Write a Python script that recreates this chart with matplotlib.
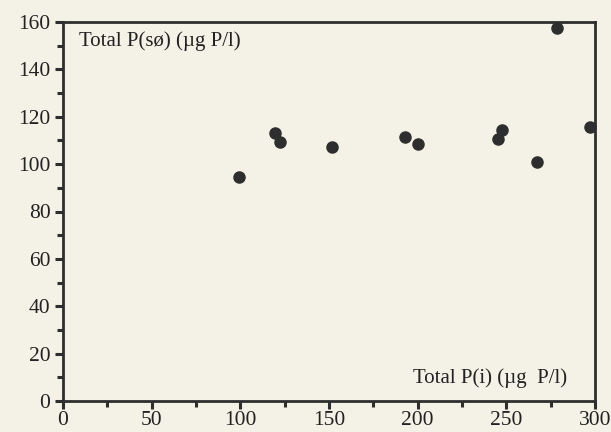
import matplotlib
matplotlib.use('Agg')
from matplotlib import pyplot as plt
from matplotlib.ticker import MultipleLocator

# total P inlet vs lake
p_inlet = [99.0, 119.6, 122.3, 151.7, 192.6, 200.3, 245.5, 247.7, 267.1, 278.7, 297.4]
p_lake = [94.7, 113.0, 109.2, 107.2, 111.6, 108.4, 110.6, 114.4, 100.9, 157.3, 115.5]

x_ticks = [0, 50, 100, 150, 200, 250, 300]
y_ticks = [0, 20, 40, 60, 80, 100, 120, 140, 160]

y_label = 'Total P(sø) (µg P/l)'
x_label = 'Total P(i) (µg  P/l)'

paper = '#f4f1e6'
ink = '#2e2e2e'


def main():
    plt.rcParams['font.family'] = ['Liberation Serif', 'DejaVu Serif']

    fig = plt.figure(figsize=(6.11, 4.32), dpi=100, facecolor=paper)
    ax = fig.add_axes([63 / 611, 1 - 401 / 432, 532 / 611, 379 / 432])
    ax.set_facecolor(paper)

    ax.plot(p_inlet, p_lake, 'o', color=ink, markersize=8, clip_on=False, zorder=5)

    ax.set_xlim(0, 300)
    ax.set_ylim(0, 160)
    ax.set_xticks(x_ticks)
    ax.set_yticks(y_ticks)
    ax.xaxis.set_minor_locator(MultipleLocator(25))
    ax.yaxis.set_minor_locator(MultipleLocator(10))

    for s in ax.spines.values():
        s.set_color(ink)
        s.set_linewidth(2.0)

    ax.tick_params(which='major', direction='out', length=6, width=2.2, color=ink,
                   labelsize=15.5, labelcolor='#222222')
    ax.tick_params(which='minor', direction='out', length=4, width=2.2, color=ink)
    ax.tick_params(axis='y', which='major', pad=3)
    ax.tick_params(axis='x', which='major', pad=1)

    ax.text(0.03, 0.95, y_label, transform=ax.transAxes, fontsize=15,
            color='#222222', ha='left', va='center')
    ax.text(0.947, 0.06, x_label, transform=ax.transAxes, fontsize=15,
            color='#222222', ha='right', va='center')

    fig.savefig('out.png', dpi=100, facecolor=paper)


if __name__ == '__main__':
    main()
